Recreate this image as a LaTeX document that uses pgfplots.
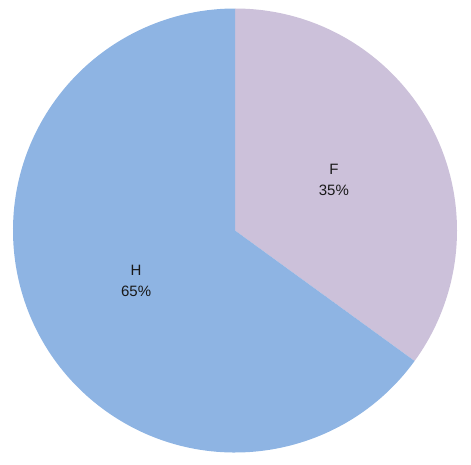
\documentclass[border=0pt]{standalone}
\usepackage{pgfplots}
\pgfplotsset{compat=1.18}
\usepackage{pgfplotstable}
\usetikzlibrary{calc}
\usepackage{fontspec}
\setmainfont{Liberation Sans}

\definecolor{sliceF}{RGB}{204,193,218}
\definecolor{sliceH}{RGB}{142,180,227}

% share values (percent), drawn clockwise from 12 o'clock
\pgfplotstableread{
label value
F 35
H 65
}\piedata

\begin{document}
\begin{tikzpicture}
\pgfplotstablegetelem{0}{value}\of\piedata \let\vF\pgfplotsretval
\pgfplotstablegetelem{1}{value}\of\piedata \let\vH\pgfplotsretval
\pgfmathsetmacro{\aF}{90-3.6*\vF}
\pgfmathsetmacro{\aH}{\aF-3.6*\vH}
\pgfmathsetmacro{\mF}{90-1.8*\vF}
\pgfmathsetmacro{\mH}{\aF-1.8*\vH}
\begin{axis}[
    scale only axis,
    width=471pt, height=464pt,
    xmin=0, xmax=471, ymin=0, ymax=464,
    hide axis,
    clip=false,
]
\fill[sliceF] (axis cs:235,233.5) -- ++(90:222pt) arc[start angle=90, end angle=\aF, radius=222pt] -- cycle;
\fill[sliceH] (axis cs:235,233.5) -- ++(\aF:222pt) arc[start angle=\aF, end angle=\aH, radius=222pt] -- cycle;
\node[align=center, font=\fontsize{15}{21}\selectfont, text=black!90] at ($(axis cs:235,233.5)+(\mF:111pt)$) {F\\\vF\%};
\node[align=center, font=\fontsize{15}{21}\selectfont, text=black!90] at ($(axis cs:235,233.5)+(\mH:111pt)$) {H\\\vH\%};
\end{axis}
\pgfresetboundingbox
\path (current axis.south west) rectangle (current axis.north east);
\end{tikzpicture}
\end{document}
